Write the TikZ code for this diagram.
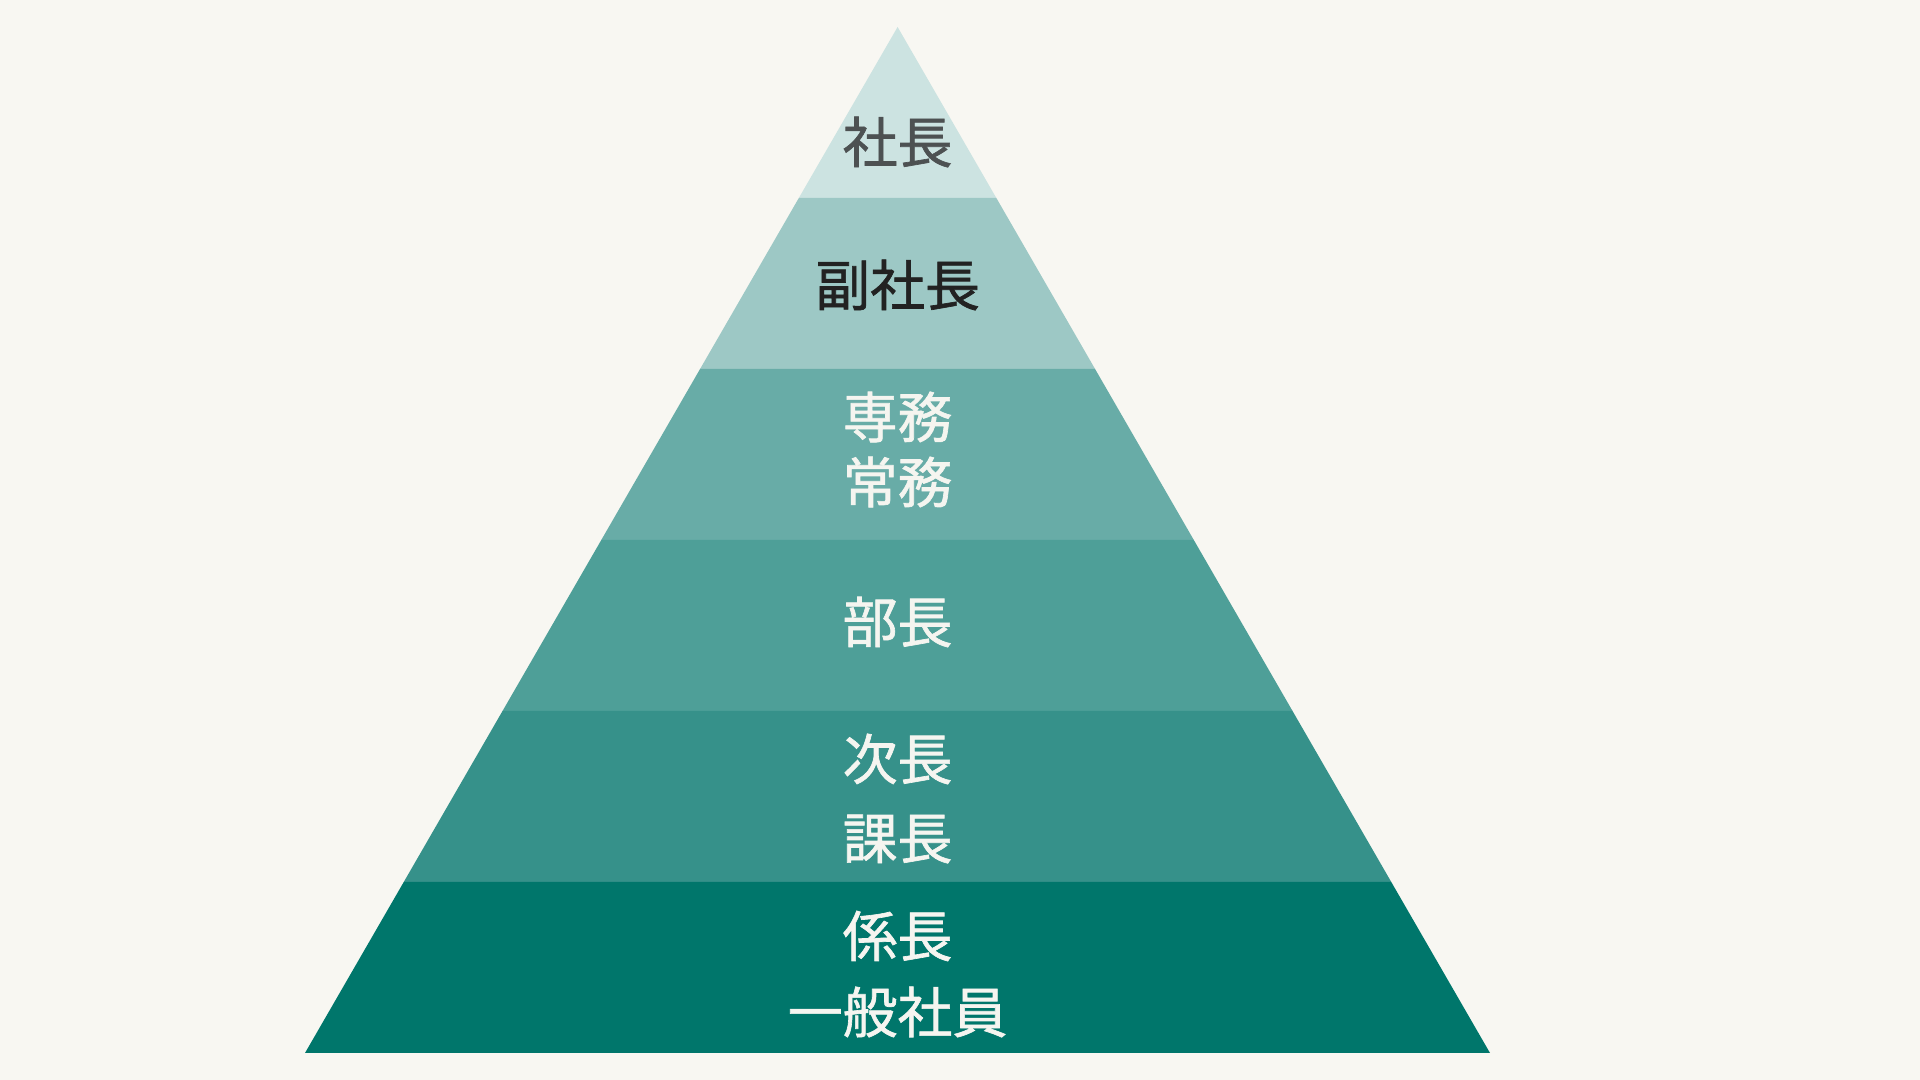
\documentclass[tikz,border=0pt]{standalone}
\usepackage{fontspec}
\setmainfont{Noto Sans CJK JP}
\newfontfamily\rankfont{Noto Sans CJK JP}[FakeBold=1.2]
\usetikzlibrary{calc}

\definecolor{paper}{HTML}{F8F7F2}
\definecolor{tierA}{HTML}{CCE3E1}
\definecolor{tierB}{HTML}{9DC8C5}
\definecolor{tierC}{HTML}{68ACA7}
\definecolor{tierD}{HTML}{4E9F98}
\definecolor{tierE}{HTML}{36918A}
\definecolor{tierF}{HTML}{00766B}
\definecolor{inkgray}{HTML}{4D5152}
\definecolor{inkdark}{HTML}{222222}
\definecolor{inklight}{HTML}{F5F5F0}

\tikzset{
  rank/.style={inner sep=0pt, font=\rankfont\fontsize{15.6pt}{18pt}\selectfont},
}

\begin{document}
\begin{tikzpicture}[x=0.01cm, y=-0.01cm]

\fill[paper] (0,0) rectangle (1920,1080);
\useasboundingbox (0,0) rectangle (1920,1080);

\coordinate (A) at (897.6,27);
\coordinate (L) at (305,1053);
\coordinate (R) at (1490,1053);

\foreach \i/\col in {0/tierA,1/tierB,2/tierC,3/tierD,4/tierE,5/tierF}{
  \pgfmathsetmacro{\lo}{\i/6}
  \pgfmathsetmacro{\hi}{(\i+1)/6}
  \fill[\col] ($(A)!\lo!(L)$) -- ($(A)!\lo!(R)$) -- ($(A)!\hi!(R)$) -- ($(A)!\hi!(L)$) -- cycle;
}

\node[rank, text=inkgray]  (shacho)   at (897.6,142) {社長};
\node[rank, text=inkdark]  (fuku)     at (897.6,285) {副社長};
\node[rank, text=inklight] (senmu)    at (897.6,417) {専務};
\node[rank, text=inklight] (jomu)     at (897.6,482) {常務};
\node[rank, text=inklight] (bucho)    at (897.6,622) {部長};
\node[rank, text=inklight] (jicho)    at (897.6,759) {次長};
\node[rank, text=inklight] (kacho)    at (897.6,839) {課長};
\node[rank, text=inklight] (kakaricho) at (897.6,936) {係長};
\node[rank, text=inklight] (ippan)    at (897.6,1012) {一般社員};

\end{tikzpicture}
\end{document}
